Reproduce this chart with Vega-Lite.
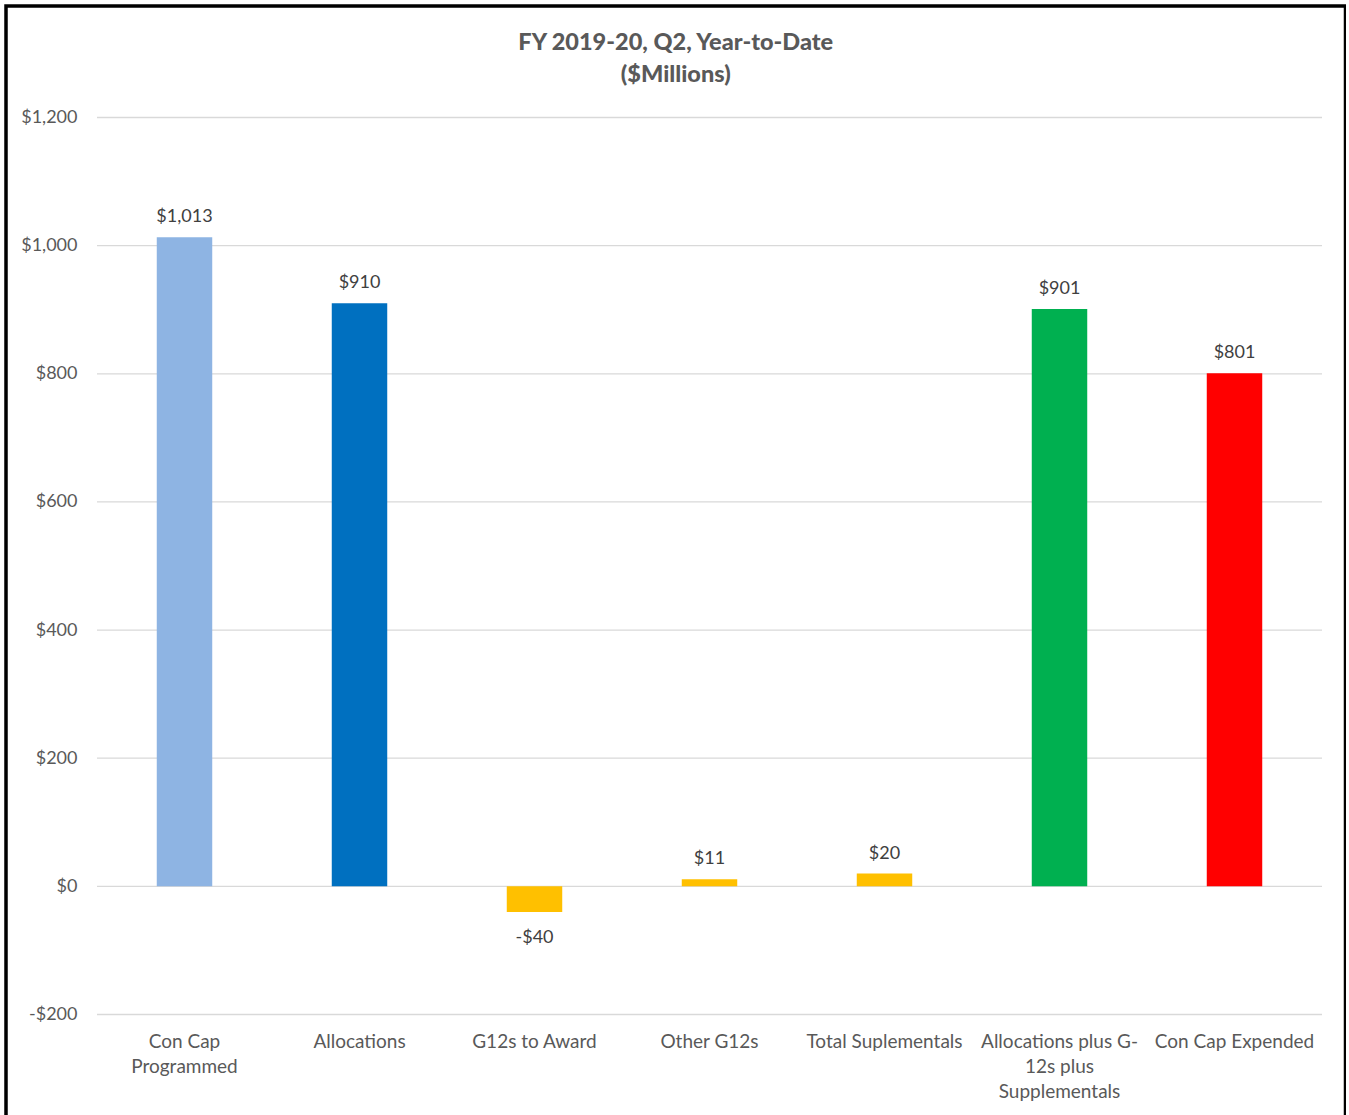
{
  "$schema": "https://vega.github.io/schema/vega-lite/v6.json",
  "autosize": "none",
  "padding": {"left": 6, "top": 6, "right": 0, "bottom": 0},
  "width": 1339.5,
  "height": 1115,
  "background": "white",
  "config": {"view": {"stroke": "#000000", "strokeWidth": 3.5}, "font": "Lato"},
  "title": {
    "text": ["FY 2019-20, Q2, Year-to-Date", "($Millions)"],
    "fontSize": 23.5, "fontWeight": 900, "color": "#595959", "font": "Lato",
    "lineHeight": 32, "anchor": "middle", "frame": "group", "offset": -80
  },
  "datasets": {
    "bars": [
      {"category": "Con Cap Programmed", "value": 1013},
      {"category": "Allocations", "value": 910},
      {"category": "G12s to Award", "value": -40},
      {"category": "Other G12s", "value": 11},
      {"category": "Total Suplementals", "value": 20},
      {"category": "Allocations plus G-12s plus Supplementals", "value": 901},
      {"category": "Con Cap Expended", "value": 801}
    ],
    "grid": [
      {"v": -200}, {"v": 0}, {"v": 200}, {"v": 400}, {"v": 600}, {"v": 800}, {"v": 1000}, {"v": 1200}
    ]
  },
  "layer": [
    {
      "data": {"name": "grid"},
      "mark": {"type": "rule", "color": "#d9d9d9", "strokeWidth": 1.3},
      "encoding": {
        "y": {
          "field": "v", "type": "quantitative",
          "scale": {"domain": [-200, 1200], "range": [1008.5, 111.5], "nice": false, "zero": false},
          "axis": {
            "orient": "left", "offset": -91, "domain": false, "ticks": false, "tickSize": 0,
            "grid": false, "labelPadding": 20, "labelFontSize": 18, "labelColor": "#595959",
            "values": [-200, 0, 200, 400, 600, 800, 1000, 1200], "title": null,
            "labelExpr": "(datum.value < 0 ? '-$' : '$') + format(abs(datum.value), ',')"
          }
        },
        "x": {
          "datum": "Con Cap Programmed", "type": "nominal", "bandPosition": 0,
          "scale": {
            "domain": ["Con Cap Programmed", "Allocations", "G12s to Award", "Other G12s", "Total Suplementals", "Allocations plus G-12s plus Supplementals", "Con Cap Expended"],
            "range": [91, 1316], "paddingInner": 0, "paddingOuter": 0
          },
          "axis": {
            "orient": "bottom", "offset": -106.5, "domain": false, "ticks": false, "tickSize": 0,
            "labelPadding": 18, "labelAngle": 0, "labelBaseline": "top", "labelFontSize": 19,
            "labelColor": "#595959", "labelLineHeight": 25, "labelOverlap": false, "labelLimit": 300,
            "title": null, "grid": false,
            "labelExpr": "datum.value == 'Con Cap Programmed' ? ['Con Cap', 'Programmed'] : datum.value == 'Allocations plus G-12s plus Supplementals' ? ['Allocations plus G-', '12s plus', 'Supplementals'] : datum.value"
          }
        },
        "x2": {"datum": "Con Cap Expended", "bandPosition": 1}
      }
    },
    {
      "data": {"name": "bars"},
      "mark": {"type": "bar", "width": {"band": 0.317}},
      "encoding": {
        "x": {"field": "category", "type": "nominal"},
        "y": {"field": "value", "type": "quantitative"},
        "color": {
          "field": "category", "type": "nominal", "legend": null,
          "scale": {
            "domain": ["Con Cap Programmed", "Allocations", "G12s to Award", "Other G12s", "Total Suplementals", "Allocations plus G-12s plus Supplementals", "Con Cap Expended"],
            "range": ["#8EB4E3", "#0070C0", "#FFC000", "#FFC000", "#FFC000", "#00B050", "#FF0000"]
          }
        }
      }
    },
    {
      "data": {"name": "bars"},
      "transform": [
        {"filter": "datum.value >= 0"},
        {"calculate": "'$' + format(datum.value, ',')", "as": "label"}
      ],
      "mark": {"type": "text", "baseline": "alphabetic", "dy": -15, "fontSize": 18, "color": "#404040"},
      "encoding": {
        "x": {"field": "category", "type": "nominal"},
        "y": {"field": "value", "type": "quantitative"},
        "text": {"field": "label"}
      }
    },
    {
      "data": {"name": "bars"},
      "transform": [
        {"filter": "datum.value < 0"},
        {"calculate": "'-$' + format(abs(datum.value), ',')", "as": "label"}
      ],
      "mark": {"type": "text", "baseline": "top", "dy": 17, "fontSize": 18, "color": "#404040"},
      "encoding": {
        "x": {"field": "category", "type": "nominal"},
        "y": {"field": "value", "type": "quantitative"},
        "text": {"field": "label"}
      }
    }
  ]
}
